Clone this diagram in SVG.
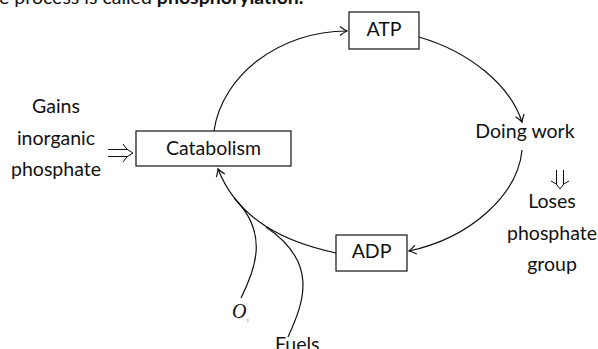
<svg xmlns="http://www.w3.org/2000/svg" width="598" height="349" viewBox="0 0 598 349">
<style>
.t{font-family:Lato,"Liberation Sans",sans-serif;font-size:19.5px;fill:#111}
.c{text-anchor:middle}
.box{fill:#fff;stroke:#111;stroke-width:1.2}
.ln{fill:none;stroke:#111;stroke-width:1.2}
.dbl{fill:none;stroke:#111;stroke-width:1}
</style>
<defs>
<marker id="ah" markerUnits="userSpaceOnUse" markerWidth="14" markerHeight="14" refX="0" refY="0" viewBox="-8 -7 10 14" orient="auto" overflow="visible">
<path d="M-7,-4.5 Q-2.5,-1 0,0 Q-2.5,1 -7,4.5" fill="none" stroke="#111" stroke-width="1.2"/>
</marker>
</defs>
<text class="t" x="-1" y="4" font-size="18.5px">e process is called <tspan font-weight="bold">phosphorylation.</tspan></text>
<g id="connectors">
<path class="ln" d="M214,131 C222,75 280,31 347,31" marker-end="url(#ah)"/>
<path class="ln" d="M419,37 C470,52 510,85 522,122" marker-end="url(#ah)"/>
<path class="ln" d="M522,150 C518,195 470,238 409,251" marker-end="url(#ah)"/>
<path class="ln" d="M336,253 C285,242 238,220 218,169" marker-end="url(#ah)"/>
<path class="ln" d="M241,298 C257,266 268,232 234,198"/>
<path class="ln" d="M288,337 C305,300 318,262 266,227"/>
<path class="dbl" d="M108,149.5 H128 M108,156.5 H128 M123,144 Q126,150 133,153 Q126,156 123,162"/>
<path class="dbl" d="M556.5,170 V185 M563.5,170 V185 M551,181 Q557,183 560,189 Q563,183 569,181"/>
</g>
<g id="atp"><rect class="box" x="349" y="12" width="70" height="37"/><text class="t c" x="384" y="36">ATP</text></g>
<g id="catabolism"><rect class="box" x="136" y="131" width="155" height="35"/><text class="t c" x="213.5" y="155">Catabolism</text></g>
<g id="adp"><rect class="box" x="336" y="235" width="71" height="36"/><text class="t c" x="371.5" y="258">ADP</text></g>
<g id="doing"><text class="t c" x="525" y="138">Doing work</text></g>
<g id="gains"><text class="t c" x="56" y="113">Gains</text><text class="t c" x="56" y="145">inorganic</text><text class="t c" x="56" y="176">phosphate</text></g>
<g id="loses"><text class="t c" x="552" y="208">Loses</text><text class="t c" x="552" y="240">phosphate</text><text class="t c" x="552" y="271">group</text></g>
<g id="o2"><text x="232" y="318" font-family="Liberation Serif,serif" font-style="italic" font-size="20" fill="#111">O</text><text x="247" y="322" font-family="Liberation Serif,serif" font-size="3" fill="#111">2</text></g>
<g id="fuels"><text class="t" x="275" y="351">Fuels</text></g>
</svg>
